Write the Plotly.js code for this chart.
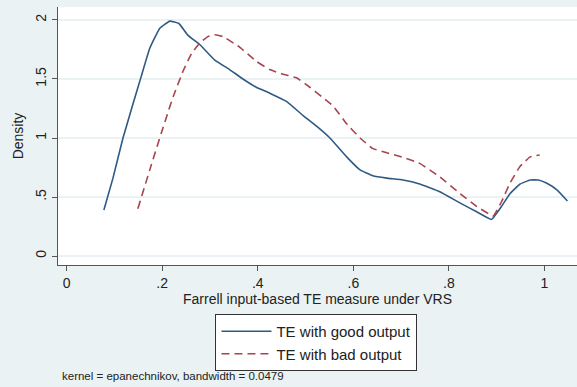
<!DOCTYPE html>
<html>
<head>
<meta charset="utf-8">
<script src="https://cdn.plot.ly/plotly-3.0.1.min.js"></script>
<style>html,body{margin:0;padding:0;background:#EAF2F3;}#chart{width:577px;height:387px;}</style>
</head>
<body>
<div id="chart"></div>
<script>
// Good output density (Farrell input-based TE, VRS)
const goodX = [0.078, 0.097, 0.118, 0.139, 0.156, 0.174, 0.195, 0.216, 0.235, 0.254, 0.279, 0.31, 0.341, 0.369, 0.397, 0.425, 0.46, 0.495, 0.523, 0.551, 0.586, 0.614, 0.641, 0.67, 0.704, 0.739, 0.781, 0.823, 0.858, 0.889, 0.91, 0.928, 0.949, 0.97, 0.987, 1.005, 1.026, 1.048];
const goodY = [0.39, 0.66, 1.00, 1.29, 1.52, 1.76, 1.93, 1.99, 1.97, 1.87, 1.79, 1.66, 1.58, 1.50, 1.43, 1.38, 1.31, 1.19, 1.10, 1.00, 0.84, 0.73, 0.68, 0.66, 0.644, 0.61, 0.545, 0.45, 0.375, 0.31, 0.42, 0.53, 0.61, 0.644, 0.644, 0.616, 0.56, 0.466];
// Bad output density
const badX = [0.149, 0.174, 0.198, 0.223, 0.244, 0.262, 0.28, 0.296, 0.31, 0.327, 0.362, 0.397, 0.425, 0.453, 0.481, 0.509, 0.537, 0.558, 0.586, 0.614, 0.641, 0.67, 0.704, 0.739, 0.781, 0.823, 0.858, 0.893, 0.91, 0.928, 0.949, 0.97, 0.99];
const badY = [0.40, 0.73, 1.04, 1.35, 1.57, 1.72, 1.81, 1.86, 1.875, 1.86, 1.77, 1.65, 1.58, 1.54, 1.51, 1.43, 1.34, 1.27, 1.12, 1.00, 0.91, 0.875, 0.836, 0.785, 0.67, 0.53, 0.42, 0.34, 0.46, 0.62, 0.76, 0.84, 0.856];
const xTickVals = [0, 0.2, 0.4, 0.6, 0.8, 1];
const xTickText = ['0', '.2', '.4', '.6', '.8', '1'];
const yTickVals = [0, 0.5, 1, 1.5, 2];
const yTickText = ['0', '.5', '1', '1.5', '2'];
const names = ['TE with good output', 'TE with bad output'];
const note = 'kernel = epanechnikov, bandwidth = 0.0479';

const font = 'Liberation Sans, Arial, sans-serif';
const traces = [
  {x: goodX, y: goodY, type: 'scatter', mode: 'lines', name: names[0], legendgroup: 'g',
   line: {color: '#2f5a84', width: 1.6, shape: 'spline', smoothing: 0.3}},
  {x: badX, y: badY, type: 'scatter', mode: 'lines', name: names[1], legendgroup: 'g',
   line: {color: '#a8444d', width: 1.6, dash: '8px,5px', shape: 'spline', smoothing: 0.3}}
];
const layout = {
  width: 577, height: 387,
  paper_bgcolor: '#EAF2F3', plot_bgcolor: '#FFFFFF',
  margin: {l: 58, r: 0, t: 7, b: 122},
  font: {family: font, size: 14, color: '#222'},
  showlegend: true,
  legend: {x: 0.498, xanchor: 'center', y: -0.19, yanchor: 'top', bgcolor: '#FFFFFF', itemwidth: 50,
           bordercolor: '#333', borderwidth: 1, font: {size: 15, color: '#222'}, tracegroupgap: 0},
  xaxis: {range: [-0.018, 1.068], tickvals: xTickVals, ticktext: xTickText, showgrid: false, zeroline: false,
          showline: true, linecolor: '#555', linewidth: 1, ticks: 'outside', ticklen: 5, tickcolor: '#555',
          title: {text: 'Farrell input-based TE measure under VRS', standoff: 0, font: {size: 14}}},
  yaxis: {range: [-0.076, 2.11], tickvals: yTickVals, ticktext: yTickText, tickangle: -90, showgrid: true,
          gridcolor: '#EAF2F3', gridwidth: 2, zeroline: false, showline: true, linecolor: '#555', linewidth: 1,
          ticks: 'outside', ticklen: 5, tickcolor: '#555',
          title: {text: 'Density', standoff: 6, font: {size: 14}}},
  annotations: [{text: note, xref: 'paper', yref: 'paper', x: 0.004, y: -0.43, xanchor: 'left', yanchor: 'middle',
                 showarrow: false, font: {size: 11.5, color: '#222'}}]
};
Plotly.newPlot('chart', traces, layout, {displayModeBar: false, staticPlot: true});
</script>
</body>
</html>
